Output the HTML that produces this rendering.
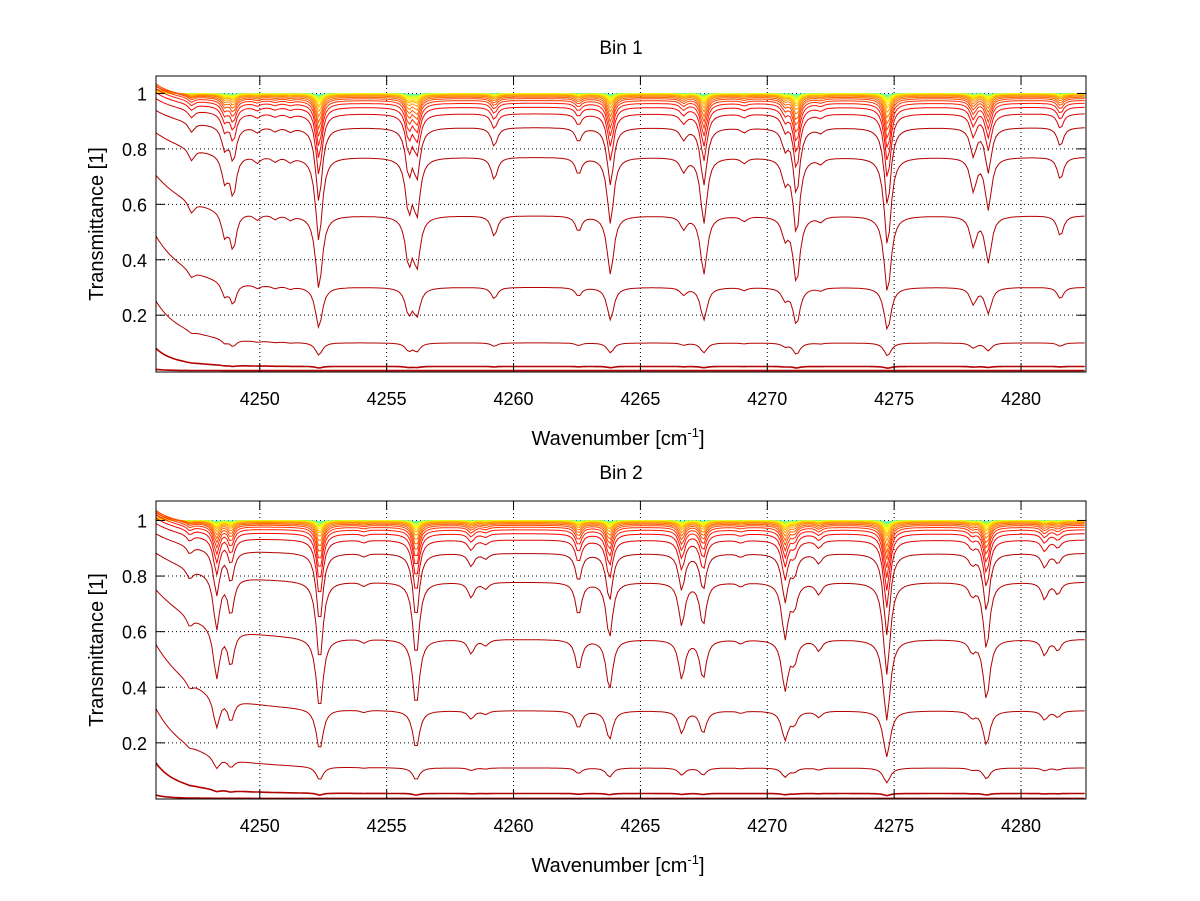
<!DOCTYPE html>
<html><head><meta charset="utf-8"><style>
body{margin:0;background:#fff;}
svg{display:block;font-family:"Liberation Sans",sans-serif;}
</style></head><body>
<svg id="fig" width="1200" height="901" viewBox="0 0 1200 901"></svg>
<script>
// ---- data ----
const xTicks = [4250, 4255, 4260, 4265, 4270, 4275, 4280];
const yTicks = [0.2, 0.4, 0.6, 0.8, 1];
const yTickLabels = ["0.2", "0.4", "0.6", "0.8", "1"];
// optical-depth scale factor of each spectrum (one per curve)
const scales = [9, 4.2, 2.3, 1.2, 0.58, 0.26, 0.13, 0.075, 0.05, 0.035, 0.025, 0.018, 0.013, 0.009, 0.006, 0.004, 0.003, 0.002, 0.0014, 0.001, 0.0007, 0.0005, 0.0003, 0.0002, 0.0001];
// Bin 1 absorption lines
const bin1LineCenters = [4247.31, 4248.62, 4248.95, 4249.9, 4250.6, 4251.2, 4252.33, 4255.87, 4256.19, 4259.24, 4262.56, 4263.82, 4266.70, 4267.50, 4269.09, 4270.70, 4271.15, 4272.1, 4274.74, 4278.12, 4278.71, 4281.55];
const bin1LineStrengths = [0.15, 0.35, 0.55, 0.08, 0.06, 0.06, 1.35, 0.75, 0.8, 0.3, 0.22, 1.0, 0.18, 1.0, 0.07, 0.3, 1.2, 0.07, 1.45, 0.45, 0.75, 0.3];
const bin1Continuum = [1.0, 0.40, 1.5]; // plateau, left reduction, decay length
// Bin 2 absorption lines
const bin2LineCenters = [4247.24, 4248.3, 4248.86, 4252.36, 4254.1, 4256.16, 4258.33, 4258.9, 4262.56, 4263.78, 4266.63, 4267.47, 4268.95, 4270.70, 4271.06, 4272.03, 4274.71, 4278.07, 4278.64, 4280.93, 4281.45];
const bin2LineStrengths = [0.12, 0.75, 0.5, 1.25, 0.05, 1.15, 0.2, 0.08, 0.45, 0.8, 0.6, 0.6, 0.05, 0.8, 0.3, 0.15, 1.5, 0.15, 1.0, 0.22, 0.15];
const bin2Continuum = [0.96, 0.47, 2.0];

// ---- drawing ----
const NS = "http://www.w3.org/2000/svg";
const svg = document.getElementById("fig");
function el(tag, attrs, parent){const e=document.createElementNS(NS,tag);for(const k in attrs)e.setAttribute(k,attrs[k]);(parent||svg).appendChild(e);return e;}
const X0 = 156, X1 = 1086, WMIN = 4245.91, WMAX = 4282.56;
function xs(w){return X0 + (w - WMIN) / (WMAX - WMIN) * (X1 - X0);}
function jet(t){t=Math.max(0,Math.min(1,t));
  const r=Math.max(0,Math.min(1,1.5-Math.abs(4*t-3))),g=Math.max(0,Math.min(1,1.5-Math.abs(4*t-2))),b=Math.max(0,Math.min(1,1.5-Math.abs(4*t-1)));
  return `rgb(${Math.round(r*255)},${Math.round(g*255)},${Math.round(b*255)})`;}
function g(s){return Math.pow(s,0.6)/(1+Math.pow(s,1.2));}

function panel(idx, title, top, bottom, ymin, ymax, centers, strengths, cont){
  const grp = el("g", {});
  
  
  const ys = v => bottom - (v - ymin) / (ymax - ymin) * (bottom - top);
  const clipId = "clip" + idx;
  const cp = el("clipPath", {id: clipId}, grp);
  el("rect", {x: X0, y: top, width: X1 - X0, height: bottom - top}, cp);
  xTicks.forEach(t => {
    const l = el("line", {x1: xs(t), x2: xs(t), y1: top, y2: bottom, stroke: "#000", "stroke-width": 1, "stroke-dasharray": "1,3"}, grp);
    
    
  });
  yTicks.forEach(t => {
    const l = el("line", {x1: X0, x2: X1, y1: ys(t), y2: ys(t), stroke: "#000", "stroke-width": 1, "stroke-dasharray": "1,3"}, grp);
    
    
  });
  const cg = el("g", {"clip-path": `url(#${clipId})`}, grp);
  
  
  const order = scales.map((s,i)=>i).sort((a,b)=>scales[a]-scales[b]);
  order.forEach(i => {
    const s = scales[i];
    let d = "";
    for (let w = WMIN; w <= WMAX + 0.05; w += 0.1) {
      const c = cont[0] - cont[1] * Math.exp(-(w - WMIN) / cont[2]);
      let lt = 0;
      for (let k = 0; k < centers.length; k++) {
        const dx = (w - centers[k]) / 0.14;
        lt += strengths[k] / (1 + dx * dx);
      }
      let T = Math.exp(-s * c - g(s) * lt);
      T += 0.055 * Math.exp(-(w - WMIN) / 0.7) * Math.min(1, s / 0.015) * Math.exp(-s / 0.1);
      d += (d ? "L" : "M") + xs(w).toFixed(1) + "," + ys(T).toFixed(1);
    }
    const t = Math.min(0.95, 1.1 + 0.17 * Math.log10(s));
    const p = el("path", {d: d, fill: "none", stroke: jet(t), "stroke-width": s > 3 ? 1.6 : 1}, cg);
    
    
  });
  const box = el("rect", {x: X0, y: top, width: X1 - X0, height: bottom - top, fill: "none", stroke: "#000", "stroke-width": 1}, grp);
  
  
  xTicks.forEach(t => {
    el("line", {x1: xs(t), x2: xs(t), y1: bottom, y2: bottom - 9, stroke: "#000"}, grp);
    el("line", {x1: xs(t), x2: xs(t), y1: top, y2: top + 9, stroke: "#000"}, grp);
    const tx = el("text", {x: xs(t), y: bottom + 33, "text-anchor": "middle", "font-size": 18}, grp);
    tx.textContent = String(t);
    
    
  });
  yTicks.forEach((t, k) => {
    el("line", {x1: X0, x2: X0 + 9, y1: ys(t), y2: ys(t), stroke: "#000"}, grp);
    el("line", {x1: X1, x2: X1 - 9, y1: ys(t), y2: ys(t), stroke: "#000"}, grp);
    const tx = el("text", {x: 147, y: ys(t) + 7, "text-anchor": "end", "font-size": 18}, grp);
    tx.textContent = yTickLabels[k];
    
    
  });
  const tt = el("text", {x: 621, y: top - 22, "text-anchor": "middle", "font-size": 19}, grp);
  tt.textContent = title;
  
  
  const xl = el("text", {x: 618, y: bottom + 73, "text-anchor": "middle", "font-size": 20}, grp);
  xl.innerHTML = 'Wavenumber [cm<tspan dy="-8" font-size="13">-1</tspan><tspan dy="8">]</tspan>';
  
  
  const yc = (top + bottom) / 2;
  const yl = el("text", {x: 103, y: yc, "text-anchor": "middle", "font-size": 20, transform: `rotate(-90 103 ${yc})`}, grp);
  yl.textContent = "Transmittance [1]";
  
  
}
panel(1, "Bin 1", 76, 372, -0.005, 1.063, bin1LineCenters, bin1LineStrengths, bin1Continuum);
panel(2, "Bin 2", 501, 799, -0.002, 1.070, bin2LineCenters, bin2LineStrengths, bin2Continuum);
</script>
</body></html>
